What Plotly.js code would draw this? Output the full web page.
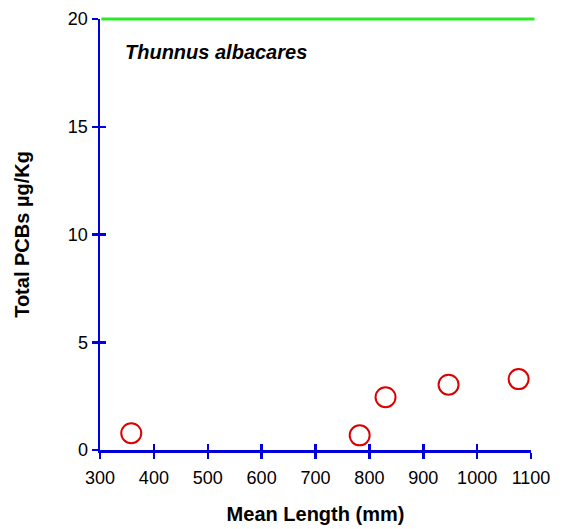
<!DOCTYPE html>
<html>
<head>
<meta charset="utf-8">
<script src="https://cdn.plot.ly/plotly-3.0.1.min.js"></script>
<style>html,body{margin:0;padding:0;background:#fff;}#chart{width:563px;height:529px;}</style>
</head>
<body>
<div id="chart"></div>
<script>
// Data
const meanLength = [358, 782, 830, 947, 1077];
const totalPCBs = [0.78, 0.68, 2.45, 3.03, 3.29];
const xTicks = [300, 400, 500, 600, 700, 800, 900, 1000, 1100];
const yTicks = [0, 5, 10, 15, 20];
const yRange = [0, 20];
const guidelineValue = 20;
const speciesLabel = "Thunnus albacares";

const blue = "rgb(0,0,220)";
const fam = "Liberation Sans, Arial, sans-serif";
const tickFont = {family: fam, size: 18, color: "#000"};
const titleFont = {family: fam, size: 20, color: "#000"};

const traces = [
  {
    x: meanLength, y: totalPCBs, type: "scatter", mode: "markers",
    marker: {symbol: "circle-open", size: 20, color: "rgb(220,0,0)", line: {width: 2, color: "rgb(220,0,0)"}},
    cliponaxis: false, hoverinfo: "x+y", xaxis: "x", yaxis: "y"
  },
  {
    x: meanLength, y: totalPCBs, type: "scatter", mode: "markers",
    marker: {opacity: 0}, hoverinfo: "skip", showlegend: false, xaxis: "x2", yaxis: "y2"
  }
];

const baseX = {
  range: [300, 1100], tickvals: xTicks, ticktext: xTicks.map(String),
  showgrid: false, zeroline: false, showline: true, linecolor: blue, linewidth: 2.5,
  tickcolor: blue, tickwidth: 2.5, ticklen: 6, fixedrange: true
};
const baseY = {
  range: yRange, tickvals: yTicks, ticktext: yTicks.map(String),
  showgrid: false, zeroline: false, showline: true, linecolor: blue, linewidth: 2.5,
  tickcolor: blue, tickwidth: 2.5, ticklen: 6, fixedrange: true
};

const guideFrac = (guidelineValue - yRange[0]) / (yRange[1] - yRange[0]);

const layout = {
  width: 563, height: 529,
  margin: {l: 100, r: 32, t: 19, b: 79},
  paper_bgcolor: "#fff", plot_bgcolor: "#fff",
  showlegend: false,
  font: tickFont,
  xaxis: Object.assign({}, baseX, {
    ticks: "outside", tickfont: tickFont, ticklabelstandoff: 4,
    title: {text: "<b>Mean Length (mm)</b>", font: titleFont, standoff: 20}
  }),
  yaxis: Object.assign({}, baseY, {
    ticks: "outside", tickfont: tickFont,
    title: {text: "<b>Total PCBs µg/Kg</b>", font: titleFont, standoff: 33}
  }),
  xaxis2: Object.assign({}, baseX, {ticks: "inside", showticklabels: false, overlaying: "x", matches: "x"}),
  yaxis2: Object.assign({}, baseY, {ticks: "inside", showticklabels: false, overlaying: "y", matches: "y"}),
  shapes: [{
    type: "line", xref: "paper", yref: "paper", x0: 0.003, x1: 1.008, y0: guideFrac, y1: guideFrac,
    line: {color: "rgb(40,235,40)", width: 3}, layer: "above"
  }],
  annotations: [{
    text: "<b><i>" + speciesLabel + "</i></b>", xref: "paper", yref: "paper",
    x: 0.054, y: 0.923, xanchor: "left", yanchor: "middle", showarrow: false,
    font: {family: fam, size: 20, color: "#000"}
  }]
};

Plotly.newPlot("chart", traces, layout, {displayModeBar: false, staticPlot: true});
</script>
</body>
</html>
